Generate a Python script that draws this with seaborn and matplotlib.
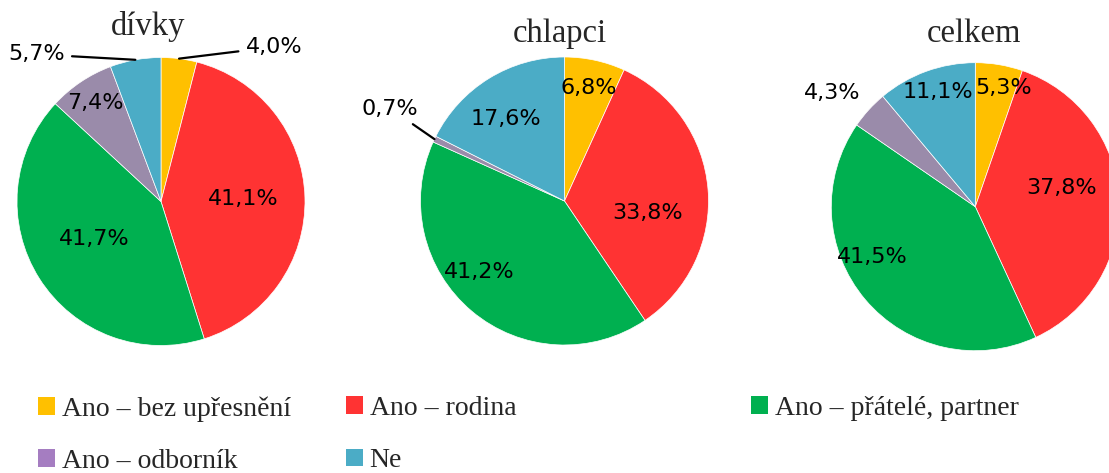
import matplotlib
matplotlib.use("Agg")
import numpy as np
import matplotlib.pyplot as plt
import seaborn as sns
from matplotlib.patches import Patch

# ---------------- data ----------------
categories = ["Ano – bez upřesnění", "Ano – rodina", "Ano – přátelé, partner",
              "Ano – odborník", "Ne"]
groups = ["dívky", "chlapci", "celkem"]
divky = [4.0, 41.1, 41.7, 7.4, 5.7]
chlapci = [6.8, 33.8, 41.2, 0.7, 17.6]
celkem = [5.3, 37.8, 41.5, 4.3, 11.1]
series = [divky, chlapci, celkem]

# ---------------- style ----------------
sns.set_theme(style="white")
plt.rcParams["font.family"] = ["DejaVu Sans"]
pie_colors = ["#FFC000", "#FF3333", "#00B050", "#9A8BAA", "#4BACC6"]
legend_colors = ["#FFC000", "#FF3333", "#00B050", "#A57DC1", "#4BACC6"]
label_font = dict(family=["DejaVu Sans"], size=16, color="black")
serif = ["Liberation Serif", "DejaVu Serif"]

W, H = 1109, 473
fig = plt.figure(figsize=(W / 100, H / 100), dpi=100)
fig.patch.set_facecolor("white")

# pie centres / radius (pixels) and title anchors
centres = [(161, 201.5), (564.5, 201), (975.3, 206.7)]
R = 144
title_pos = [(148.5, 35), (560, 41.7), (974, 41.7)]

# label placement per wedge: (radius fraction, angle shift deg, leader line)
placements = [
    [(1.33, -29, True), (0.57, 0, False), (0.53, -3, False), (0.82, 0, False), (1.34, 30, True)],
    [(0.80, 0, False), (0.58, -13, False), (0.77, -10, False), (1.37, -2.5, True), (0.70, 4, False)],
    [(0.85, -3.6, False), (0.61, 9.4, False), (0.80, -14, False), (1.27, 4, False), (0.84, -2, False)],
]

for (cx, cy), vals, place, (tx, ty), name in zip(centres, series, placements, title_pos, groups):
    ax = fig.add_axes([(cx - R) / W, (H - cy - R) / H, 2 * R / W, 2 * R / H])
    wedges, _ = ax.pie(vals, colors=pie_colors, startangle=90, counterclock=False,
                       radius=1.0, wedgeprops=dict(linewidth=0.5, edgecolor="white"))
    ax.set_xlim(-1, 1)
    ax.set_ylim(-1, 1)
    ax.set_aspect("equal")
    ax.axis("off")
    for w, v, (r, dth, leader) in zip(wedges, vals, place):
        mid = np.deg2rad((w.theta1 + w.theta2) / 2)
        ang = mid + np.deg2rad(dth)
        txt = f"{v:.1f}%".replace(".", ",")
        pos = (r * np.cos(ang), r * np.sin(ang))
        if leader:
            ax.annotate(txt, xy=(np.cos(mid), np.sin(mid)), xytext=pos,
                        ha="center", va="center", annotation_clip=False,
                        arrowprops=dict(arrowstyle="-", color="black", lw=1.6,
                                        shrinkA=3, shrinkB=0),
                        **label_font)
        else:
            ax.text(pos[0], pos[1], txt, ha="center", va="center", **label_font)
    fig.text(tx / W, 1 - ty / H, name, ha="center", va="baseline",
             family=serif, size=23.5)

# ---------------- legend (three columns, Excel-like) ----------------
handles = [Patch(facecolor=c, edgecolor="none", label=l) for c, l in zip(legend_colors, categories)]
columns = [[0, 3], [1, 4], [2]]
col_x = [38, 346, 751]
for idx, x in zip(columns, col_x):
    fig.legend(handles=[handles[i] for i in idx], loc="upper left",
               bbox_to_anchor=(x / W, 1 - 396 / H), frameon=False,
               prop=dict(family=serif, size=20), borderpad=0, borderaxespad=0,
               handlelength=0.6, handleheight=0.6, handletextpad=0.25,
               labelspacing=0.98)

fig.savefig("out.png", dpi=100, facecolor="white")
